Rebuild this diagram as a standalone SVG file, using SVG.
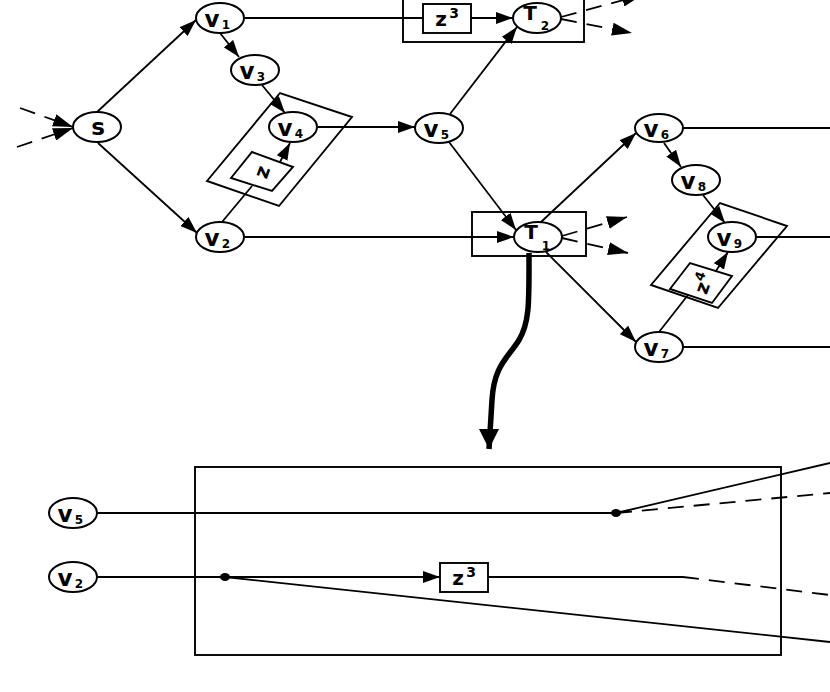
<svg xmlns="http://www.w3.org/2000/svg" width="830" height="692" viewBox="0 0 830 692">
<defs>
<style>
.nd ellipse{fill:#fff;stroke:#000;stroke-width:2}
.bx{fill:none;stroke:#000;stroke-width:1.9}
.bxw{fill:#fff;stroke:#000;stroke-width:1.9}
.t{font-family:"DejaVu Sans","Liberation Sans",Arial,sans-serif;font-weight:bold;text-anchor:middle;fill:#000}
.m{font-size:23px}
.s{font-size:12px}
.c line,.c path,.c polyline{stroke:#000;stroke-width:1.8;fill:none}
.c .d{stroke-dasharray:16 10}
.c .thick{stroke-width:5.5}
</style>
<marker id="ah" viewBox="0 0 17 12" refX="17" refY="6" markerWidth="17" markerHeight="12" orient="auto" markerUnits="userSpaceOnUse"><path d="M0,0 L17,6 L0,12 z" fill="#000"/></marker>
<marker id="ahl" viewBox="0 0 20 13" refX="20" refY="6.5" markerWidth="20" markerHeight="13" orient="auto" markerUnits="userSpaceOnUse"><path d="M0,0 L20,6.5 L0,13 z" fill="#000"/></marker>
<marker id="ahb" viewBox="0 0 20 20" refX="10" refY="20" markerWidth="20" markerHeight="20" orient="0" markerUnits="userSpaceOnUse"><path d="M0,0 L20,0 L10,20 z" fill="#000"/></marker>
</defs>

<g id="connectors" class="c">
<line class="d" x1="20" y1="108" x2="73" y2="127" marker-end="url(#ahl)"/>
<line class="d" x1="17" y1="147" x2="73" y2="128" marker-end="url(#ahl)"/>
<line x1="97" y1="112" x2="196" y2="20" marker-end="url(#ah)"/>
<line x1="98" y1="143" x2="197" y2="233" marker-end="url(#ah)"/>
<line x1="220" y1="33" x2="239" y2="57" marker-end="url(#ah)"/>
<line x1="262" y1="85" x2="285" y2="113" marker-end="url(#ah)"/>
<line x1="222" y1="222" x2="252" y2="186"/>
<line x1="280" y1="162" x2="290" y2="143" marker-end="url(#ah)"/>
<line x1="318" y1="127" x2="415" y2="127" marker-end="url(#ah)"/>
<line x1="245" y1="18" x2="423" y2="18"/>
<line x1="471" y1="18" x2="513" y2="18" marker-end="url(#ah)"/>
<line x1="450" y1="114" x2="517" y2="27" marker-end="url(#ah)"/>
<line x1="449" y1="142" x2="516" y2="230" marker-end="url(#ah)"/>
<line x1="245" y1="237" x2="514" y2="237" marker-end="url(#ah)"/>
<line class="d" x1="561" y1="17" x2="642" y2="-5" marker-end="url(#ahl)"/>
<line class="d" x1="561" y1="19" x2="632" y2="33" marker-end="url(#ahl)"/>
<line class="d" x1="562" y1="236" x2="627" y2="217" marker-end="url(#ahl)"/>
<line class="d" x1="562" y1="238" x2="628" y2="253" marker-end="url(#ahl)"/>
<line x1="541" y1="222" x2="636" y2="133" marker-end="url(#ah)"/>
<line x1="546" y1="252" x2="636" y2="342" marker-end="url(#ah)"/>
<line x1="664" y1="143" x2="681" y2="167" marker-end="url(#ah)"/>
<line x1="703" y1="195" x2="725" y2="223" marker-end="url(#ah)"/>
<line x1="659" y1="332" x2="688" y2="295"/>
<line x1="716" y1="271" x2="728" y2="252" marker-end="url(#ah)"/>
<line x1="683" y1="128" x2="830" y2="128"/>
<line x1="756" y1="237" x2="830" y2="237"/>
<line x1="683" y1="347" x2="830" y2="347"/>
<path class="thick" d="M529,253 C529,300 530,322 519,340 C508,358 494,365 492,400 L489,449" marker-end="url(#ahb)"/>
<line x1="97" y1="513" x2="616" y2="513"/>
<line x1="616" y1="513" x2="830" y2="463"/>
<line class="d" x1="616" y1="513" x2="830" y2="493"/>
<line x1="97" y1="577" x2="440" y2="577" marker-end="url(#ah)"/>
<polyline points="488,577 683,577"/>
<line class="d" x1="683" y1="577" x2="830" y2="595"/>
<line x1="225" y1="577" x2="830" y2="642"/>
</g>

<g id="box-v4">
<polygon class="bx" points="207,181 280,93 352,117 279,206"/>
<polygon class="bxw" points="231,178 252,152 293,167 272,191"/>
<g transform="translate(262,172) rotate(-70)"><text class="t" x="0" y="7" font-size="20">z</text></g>
</g>
<g id="box-v9">
<polygon class="bx" points="651,285 720,203 787,226 718,308"/>
<polygon class="bxw" points="670,289 690,263 732,276 712,303"/>
<g transform="translate(703,287) rotate(-70)"><text class="t" x="-1" y="6" font-size="19">z</text><text class="t" x="9" y="-2" font-size="13">4</text></g>
</g>
<g id="box-T2">
<rect class="bx" x="403" y="-3" width="181" height="45"/>
</g>
<g id="z3-top">
<rect class="bxw" x="423" y="4" width="48" height="29"/>
<text class="t" x="441" y="26" font-size="20">z</text><text class="t" x="454" y="18" font-size="14">3</text>
</g>
<g id="box-T1">
<rect class="bx" x="472" y="212" width="114" height="44"/>
</g>
<g id="expanded-box">
<rect class="bx" x="195" y="467" width="586" height="188"/>
</g>
<g id="z3-bottom">
<rect class="bxw" x="440" y="563" width="48" height="29"/>
<text class="t" x="458" y="585" font-size="20">z</text><text class="t" x="471" y="577" font-size="14">3</text>
</g>
<g id="dot1"><ellipse cx="616" cy="513" rx="5" ry="4" fill="#000"/></g>
<g id="dot2"><ellipse cx="225" cy="577" rx="5" ry="4" fill="#000"/></g>

<g id="node-s" class="nd"><ellipse cx="97" cy="127" rx="24" ry="15"/><text class="t m" x="98" y="135">s</text></g>
<g id="node-v1" class="nd"><ellipse cx="220" cy="18" rx="24" ry="15"/><text class="t m" x="212" y="27">v</text><text class="t s" x="226" y="29">1</text></g>
<g id="node-v3" class="nd"><ellipse cx="255" cy="70" rx="24" ry="15"/><text class="t m" x="247" y="79">v</text><text class="t s" x="261" y="81">3</text></g>
<g id="node-v4" class="nd"><ellipse cx="293" cy="127" rx="24" ry="15"/><text class="t m" x="285" y="136">v</text><text class="t s" x="299" y="138">4</text></g>
<g id="node-v2" class="nd"><ellipse cx="220" cy="237" rx="24" ry="15"/><text class="t m" x="212" y="246">v</text><text class="t s" x="226" y="248">2</text></g>
<g id="node-v5" class="nd"><ellipse cx="439" cy="128" rx="24" ry="15"/><text class="t m" x="431" y="137">v</text><text class="t s" x="445" y="139">5</text></g>
<g id="node-T2" class="nd"><ellipse cx="537" cy="18" rx="24" ry="15"/><text class="t" font-size="20" x="530" y="20">T</text><text class="t s" x="545" y="30">2</text></g>
<g id="node-T1" class="nd"><ellipse cx="538" cy="237" rx="24" ry="15"/><text class="t" font-size="20" x="531" y="239">T</text><text class="t s" x="546" y="250">1</text></g>
<g id="node-v6" class="nd"><ellipse cx="659" cy="128" rx="24" ry="14"/><text class="t m" x="651" y="137">v</text><text class="t s" x="665" y="139">6</text></g>
<g id="node-v8" class="nd"><ellipse cx="696" cy="180" rx="24" ry="15"/><text class="t m" x="688" y="189">v</text><text class="t s" x="702" y="191">8</text></g>
<g id="node-v9" class="nd"><ellipse cx="732" cy="237" rx="24" ry="15"/><text class="t m" x="724" y="246">v</text><text class="t s" x="738" y="248">9</text></g>
<g id="node-v7" class="nd"><ellipse cx="659" cy="347" rx="24" ry="15"/><text class="t m" x="651" y="356">v</text><text class="t s" x="665" y="358">7</text></g>
<g id="node-v5-b" class="nd"><ellipse cx="73" cy="513" rx="24" ry="15"/><text class="t m" x="65" y="522">v</text><text class="t s" x="79" y="524">5</text></g>
<g id="node-v2-b" class="nd"><ellipse cx="73" cy="577" rx="24" ry="15"/><text class="t m" x="65" y="586">v</text><text class="t s" x="79" y="588">2</text></g>
</svg>
